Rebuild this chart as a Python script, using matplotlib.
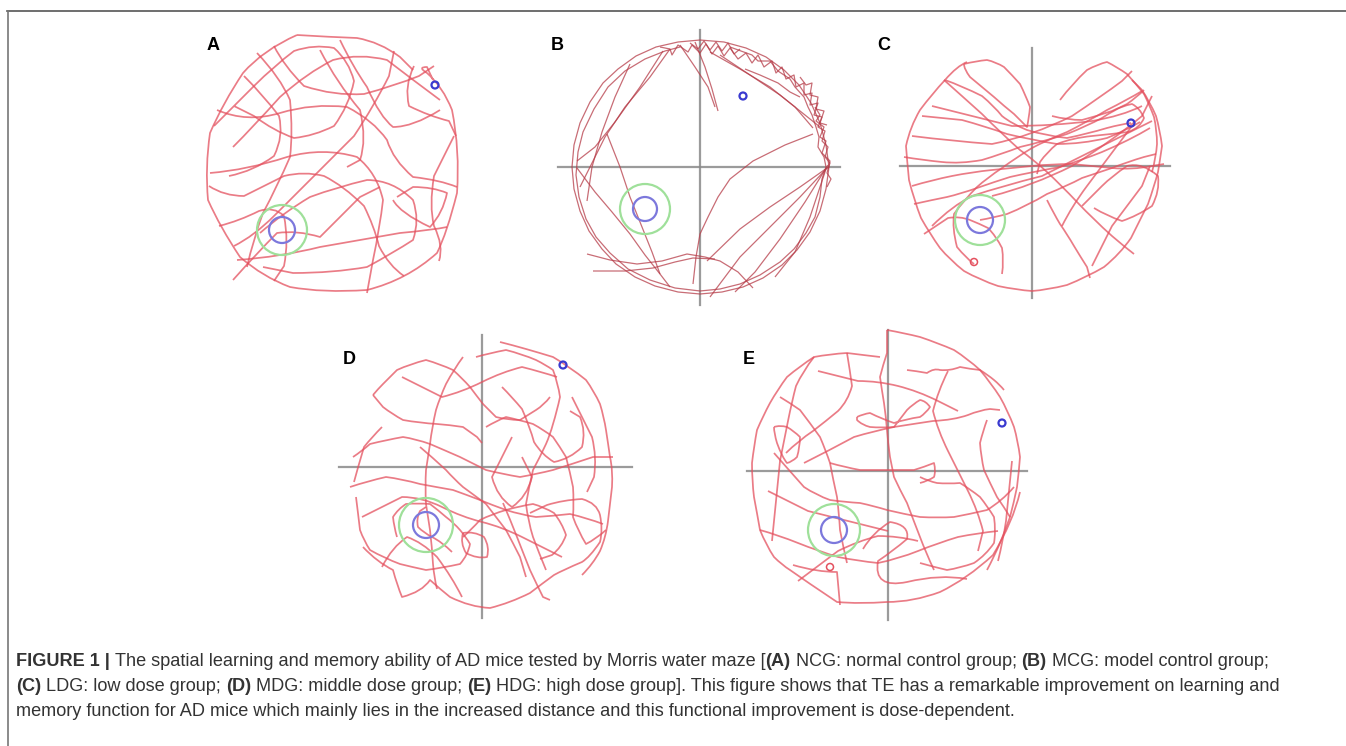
import matplotlib
matplotlib.use("Agg")
import matplotlib.pyplot as plt
from matplotlib.lines import Line2D
from matplotlib.patches import Circle, PathPatch
from matplotlib.path import Path

W, H = 1346, 746

# swim tracks: tracker px offsets from the pool centre (x right, y up)
A_TRACKS = [
    [(-37, 131), (-71, 116), (-91, 93), (-111, 63), (-124, 33), (-129, -1), (-126, -34), (-114, -61),
     (-94, -91), (-71, -111), (-44, -121), (-11, -127), (33, -124), (73, -114), (103, -87), (113, -67),
     (123, -27), (126, 16), (118, 56), (109, 79), (93, 93), (83, 99), (93, 99), (99, 86)],
    [(-37, 131), (-4, 129), (23, 128), (46, 124), (66, 109), (79, 96)],
    [(-77, 113), (-54, 89), (-44, 66), (-41, 33), (-44, 9), (-57, -21), (-71, -47), (-81, -74), (-87, -101)],
    [(-117, 56), (-87, 43), (-54, 53), (-21, 63), (13, 59), (39, 46), (53, 26), (59, 6), (79, -11),
     (106, -14), (123, -21)],
    [(-124, -7), (-87, -4), (-47, 9), (-11, 19), (23, 9), (43, -7), (49, -34), (46, -61), (39, -94), (33, -127)],
    [(6, 126), (19, 99), (33, 79), (46, 49), (59, 39), (79, 39), (106, 56)],
    [(-97, -94), (-54, -91), (-14, -81), (26, -74), (66, -67), (99, -64), (113, -61)],
    [(-74, -67), (-51, -47), (-24, -31), (3, -21), (33, -14), (59, -14), (79, -34), (86, -54), (79, -74),
     (59, -87), (33, -101), (-1, -107), (-41, -107), (-71, -101)],
    [(-101, -114), (-77, -87), (-57, -67), (-37, -64), (-14, -71), (3, -54), (26, -31), (46, -21)],
    [(-101, 19), (-81, 39), (-54, 69), (-27, 93), (-1, 106), (26, 113), (53, 106), (79, 86), (106, 66)],
    [(-14, 116), (3, 83), (26, 56), (33, 26), (26, 6), (13, -1)],
    [(59, -34), (66, -47), (96, -61), (109, -47), (113, -27), (99, -21), (79, -21), (63, -31)],
    [(-120, 40), (-100, 60), (-80, 80), (-60, 100), (-40, 115), (-20, 122), (0, 118), (15, 105), (20, 85),
     (15, 60), (0, 40), (-20, 30), (-40, 28), (-60, 35), (-80, 50), (-100, 60)],
    [(-60, 120), (-50, 100), (-30, 80), (0, 70), (30, 72), (60, 80), (85, 90), (100, 100)],
    [(-125, -20), (-110, -30), (-90, -30), (-70, -20), (-50, -10), (-30, -5), (-10, -10), (10, -20),
     (30, -40), (40, -60), (45, -80), (55, -100), (70, -110)],
    [(-100, -80), (-80, -70), (-60, -50), (-40, -30), (-20, -10), (0, 10), (20, 30), (40, 60), (55, 90), (60, 115)],
    [(120, 30), (110, 10), (100, -10), (95, -40), (100, -60), (110, -80), (105, -95)],
    [(-90, 90), (-70, 70), (-55, 50), (-50, 30), (-60, 10), (-80, -5), (-105, -10)],
    [(80, 100), (70, 80), (75, 60), (95, 50), (115, 45), (122, 30)],
    [(-115, -60), (-95, -55), (-75, -45), (-60, -40), (-50, -50), (-45, -75), (-50, -100), (-60, -115)],
]

B_TRACKS = [
    [(0, 127), (24, 125), (46, 119), (66, 110), (84, 97), (99, 82), (111, 64), (120, 44), (126, 22), (129, 0),
     (126, -22), (120, -44), (110, -65), (97, -83), (82, -98), (63, -111), (43, -120), (22, -125), (0, -127),
     (-22, -125), (-45, -119), (-65, -110), (-84, -97), (-98, -82), (-111, -64), (-120, -44), (-126, -22),
     (-128, 0), (-126, 22), (-120, 44), (-110, 65), (-97, 84), (-82, 98), (-64, 111), (-44, 120), (-22, 125), (0, 127)],
    [(30, 120), (52, 112), (58, 106), (70, 106), (78, 96), (90, 88), (95, 80), (104, 70), (108, 60), (112, 52),
     (116, 40), (119, 30), (118, 20), (124, 10), (126, 0), (122, -12), (120, -30), (115, -50), (106, -66),
     (94, -82), (80, -95), (60, -108), (40, -117), (20, -122), (0, -124), (-25, -121), (-50, -113), (-72, -102),
     (-90, -86), (-104, -70), (-114, -52), (-121, -30), (-124, -8), (-122, 15), (-117, 35), (-106, 58),
     (-92, 80), (-75, 96), (-55, 108), (-35, 116), (-20, 120)],
    [(-40, 120), (-30, 118), (-28, 112), (-22, 122), (-12, 115), (-8, 122), (0, 114), (6, 123), (12, 113),
     (18, 121), (24, 111), (30, 119), (38, 108), (46, 114), (52, 104), (58, 112), (64, 100), (72, 106),
     (76, 94), (82, 100), (86, 88), (94, 92), (96, 80), (104, 84), (104, 72), (112, 74), (110, 62), (118, 64),
     (114, 52), (122, 50), (118, 40), (125, 36), (122, 26), (128, 20), (125, 10), (130, 4), (128, -2)],
    [(-37, 116), (-60, 80), (-85, 45), (-105, 20), (-123, 6)],
    [(-30, 118), (-50, 90), (-75, 60), (-95, 30), (-110, 0), (-120, -20)],
    [(-5, 125), (5, 100), (12, 78), (18, 56)],
    [(-20, 122), (-5, 100), (8, 80), (15, 60)],
    [(10, 115), (40, 98), (70, 80), (95, 60), (113, 39)],
    [(20, 112), (50, 92), (80, 72), (105, 52), (120, 40)],
    [(127, -1), (100, -20), (70, -40), (40, -62), (7, -94)],
    [(128, 0), (100, -30), (70, -60), (40, -90), (10, -130)],
    [(128, 2), (105, -35), (80, -72), (55, -105), (35, -125)],
    [(126, -2), (110, -50), (95, -85), (75, -110)],
    [(113, 33), (85, 22), (53, 6), (30, -12), (18, -30), (8, -50), (0, -67), (-4, -90), (-7, -117)],
    [(-123, -1), (-105, -25), (-88, -45), (-70, -67), (-55, -88), (-40, -107), (-30, -120)],
    [(-113, -87), (-90, -93), (-63, -97), (-38, -94), (-13, -87), (5, -90), (20, -94), (38, -105), (53, -121)],
    [(-107, -104), (-75, -104), (-47, -101), (-25, -95), (-7, -91), (15, -92)],
    [(-70, 103), (-85, 70), (-98, 35), (-108, 0), (-113, -34)],
    [(-93, 33), (-80, 0), (-70, -30), (-58, -60), (-48, -85), (-40, -107)],
    [(115, 60), (120, 52), (116, 46), (124, 40), (120, 30), (126, 26), (122, 14), (130, 6), (127, -6),
     (131, -12), (127, -20)],
    [(45, 98), (60, 92), (78, 84), (90, 75), (100, 70)],
    [(-10, 124), (-2, 118), (4, 126), (10, 117), (16, 125), (22, 116), (28, 124), (34, 113), (40, 118)],
    [(100, 90), (106, 82), (112, 84), (110, 72), (118, 70), (116, 58), (124, 56), (120, 44), (127, 42)],
]

C_TRACKS = [
    [(-87, 86), (-100, 72), (-112, 56), (-122, 39), (-126, 20), (-125, 6), (-123, -14), (-118, -34),
     (-111, -52), (-102, -68), (-92, -82), (-82, -94), (-68, -105), (-52, -114), (-34, -120), (-15, -124),
     (0, -125), (15, -124), (35, -119), (55, -111), (72, -101), (88, -88), (99, -72), (108, -54), (116, -38),
     (122, -21), (126, -6), (128, 6), (130, 20), (128, 36), (124, 50), (118, 64), (110, 76), (100, 86)],
    [(-68, 102), (-56, 105), (-45, 106), (-36, 104), (-28, 99), (-20, 91), (-12, 82), (-6, 70), (-2, 59),
     (-3, 48), (-5, 39), (-12, 46), (-18, 52), (-28, 60), (-38, 69), (-50, 79), (-62, 89), (-68, 97), (-68, 102)],
    [(-65, 104), (-75, 100), (-87, 86), (-70, 80), (-50, 70), (-38, 60), (-30, 50), (-20, 42), (-5, 36),
     (15, 30), (35, 28), (55, 32), (75, 38), (90, 42), (99, 43)],
    [(28, 66), (40, 82), (55, 96), (66, 102), (75, 104), (85, 99), (95, 92), (104, 82), (112, 72), (118, 60),
     (122, 49), (125, 36), (125, 22), (124, 8), (120, -6)],
    [(110, 75), (95, 66), (75, 56), (55, 44), (35, 34), (15, 26), (0, 18), (-15, 9), (-30, -2), (-45, -12),
     (-55, -21), (-68, -34), (-78, -48), (-80, -62), (-75, -81), (-66, -92), (-58, -98)],
    [(-88, 86), (-70, 70), (-50, 52), (-30, 32), (-12, 16), (2, 6), (15, -6), (30, -20), (45, -36), (62, -54),
     (80, -70), (94, -82), (102, -88)],
    [(-52, -54), (-40, -52), (-25, -48), (-5, -40), (15, -28), (35, -20), (50, -12), (62, -8), (80, -2),
     (95, 4), (112, 9), (124, 12)],
    [(-118, -38), (-100, -34), (-85, -31), (-72, -28), (-55, -22), (-38, -16), (-22, -11), (0, -6), (28, -1),
     (50, 6), (70, 14), (82, 19), (96, 26), (108, 32), (118, 38)],
    [(-128, 9), (-110, 6), (-90, 4), (-72, 2), (-50, 6), (-30, 12), (-12, 19), (10, 24), (35, 32), (55, 40),
     (70, 48), (82, 56), (95, 62), (105, 69), (112, 76)],
    [(15, -34), (22, -48), (28, -58), (35, -68), (42, -80), (48, -90), (55, -101), (58, -112)],
    [(20, 50), (35, 46), (50, 46), (65, 50), (80, 55), (90, 60), (100, 62), (108, 58), (112, 48), (108, 38),
     (96, 34), (80, 32), (60, 30), (40, 28), (25, 22), (15, 14), (8, 4), (5, -8)],
    [(-108, -68), (-96, -60), (-84, -52), (-72, -50), (-62, -54), (-52, -58), (-44, -62), (-36, -70),
     (-30, -82), (-28, -95), (-30, -108)],
    [(50, -40), (60, -30), (70, -20), (80, -10), (95, 0), (110, 4), (126, -10), (128, -25), (120, -40),
     (105, -50), (90, -55), (75, -50), (62, -42)],
    [(-110, 50), (-90, 48), (-70, 46), (-48, 40), (-25, 32), (0, 26), (25, 22), (50, 22), (75, 28), (95, 36),
     (108, 44)],
    [(-120, -20), (-100, -14), (-80, -10), (-60, -6), (-40, -4), (-20, -2), (0, 0), (20, 2), (40, 2), (60, 0),
     (80, -2), (100, -4), (120, 0), (132, 2)],
    [(-100, 60), (-60, 50), (-20, 40), (20, 40), (60, 45), (90, 50), (110, 60)],
    [(-40, -30), (0, -20), (40, 0), (80, 25), (110, 50), (120, 70)],
    [(-120, 30), (-80, 25), (-40, 22), (0, 30), (40, 50), (70, 70), (90, 85), (100, 95)],
    [(-100, -60), (-80, -40), (-60, -30), (-30, -20), (10, -10), (50, 10), (90, 30), (120, 45)],
    [(30, -60), (40, -40), (55, -20), (70, 0), (85, 20), (100, 40)],
    [(60, -100), (70, -80), (80, -60), (95, -40), (110, -20), (118, 0)],
]

D_TRACKS = [
    [(18, 125), (30, 122), (44, 118), (58, 114), (71, 110), (88, 100), (104, 87), (112, 76), (118, 63),
     (122, 50), (124, 37), (126, 24), (128, 10), (131, -3), (130, -20), (128, -37), (126, -54), (124, -70),
     (118, -84), (111, -97), (100, -108)],
    [(-109, 72), (-104, 78), (-99, 83), (-92, 90), (-85, 97), (-72, 103), (-56, 107), (-42, 103), (-29, 97),
     (-20, 89), (-12, 80), (-6, 72), (1, 63), (8, 56), (14, 50), (26, 47), (38, 47), (46, 52), (54, 57),
     (62, 62), (68, 70)],
    [(-109, 72), (-104, 66), (-99, 60), (-90, 53), (-79, 47), (-62, 44), (-45, 43), (-32, 42), (-19, 40),
     (-12, 35), (-5, 30), (0, 24)],
    [(-19, 110), (-28, 98), (-36, 83), (-42, 70), (-46, 57), (-50, 40), (-52, 23), (-54, 10), (-56, -3),
     (-57, -20), (-56, -37), (-54, -50), (-52, -63), (-50, -80), (-49, -97), (-48, -110), (-45, -122)],
    [(-6, 110), (8, 114), (24, 117), (40, 113), (54, 107), (64, 102), (71, 97), (76, 84), (78, 70), (75, 56),
     (71, 43), (68, 32), (64, 23), (58, 10), (51, -3), (47, -20), (44, -37), (46, -54), (51, -70), (57, -86),
     (64, -103)],
    [(-129, 10), (-120, 16), (-112, 23), (-96, 27), (-79, 30), (-66, 28), (-52, 23), (-38, 17), (-22, 10),
     (-8, 3), (4, -3), (20, -7), (38, -10), (55, -7), (71, -3), (90, 3), (111, 10), (131, 10)],
    [(-132, -20), (-114, -14), (-96, -10), (-80, -12), (-62, -17), (-46, -20), (-29, -23), (-15, -28),
     (-2, -33), (10, -38), (24, -43), (40, -48), (54, -50), (70, -49), (88, -47), (105, -51), (121, -57)],
    [(-126, -30), (-124, -46), (-122, -63), (-118, -74), (-112, -83), (-98, -91), (-82, -97), (-70, -100),
     (-56, -103), (-40, -101), (-22, -97), (-14, -88), (-12, -77), (-16, -70), (-22, -63), (-28, -56),
     (-36, -50), (-44, -43), (-52, -37), (-64, -36), (-76, -37), (-84, -42), (-89, -50), (-88, -60), (-85, -70)],
    [(4, 40), (14, 46), (24, 50), (38, 47), (51, 43), (62, 37), (71, 30), (78, 20), (84, 10), (88, -5),
     (91, -20), (92, -35), (91, -50), (96, -64), (104, -77), (114, -72), (124, -63)],
    [(-62, 20), (-50, 10), (-36, -3), (-28, -12), (-19, -20), (-8, -28), (4, -37), (14, -50), (24, -63),
     (31, -76), (38, -90), (41, -100), (44, -110)],
    [(-19, -70), (-10, -62), (-2, -53), (10, -47), (24, -43), (38, -39), (51, -37), (62, -40), (72, -46),
     (80, -56), (84, -68), (80, -80), (70, -88), (58, -92)],
    [(-100, 40), (-110, 30), (-118, 20), (-124, 0), (-128, -15)],
    [(-30, -85), (-40, -75), (-50, -70), (-58, -66), (-64, -60), (-66, -52), (-62, -44), (-56, -40)],
    [(20, 80), (30, 70), (40, 58), (48, 40), (52, 25), (60, 12), (72, 5), (88, 8), (100, 20), (104, 36),
     (98, 50), (88, 56)],
    [(-119, -80), (-105, -95), (-89, -103), (-85, -118), (-80, -130), (-60, -125), (-52, -113), (-42, -122),
     (-32, -130), (-12, -140), (8, -141), (28, -136), (48, -126), (61, -116), (72, -108), (81, -103),
     (100, -95), (108, -90), (118, -75), (121, -63), (118, -48), (115, -36), (100, -32), (81, -33), (65, -38),
     (48, -46)],
    [(-19, -66), (-22, -76), (-16, -86), (-5, -92), (5, -90), (8, -80), (2, -70), (-8, -64), (-19, -66)],
    [(21, -36), (28, -52), (35, -70), (42, -88), (48, -103), (55, -118), (61, -130), (68, -133)],
    [(-80, 90), (-60, 80), (-40, 70), (-20, 75), (0, 85), (20, 95), (40, 100), (60, 95), (75, 90)],
    [(-120, -50), (-100, -40), (-80, -30), (-60, -30), (-40, -40), (-20, -50), (0, -55), (20, -60), (40, -70),
     (60, -80), (80, -90)],
    [(-100, -100), (-90, -80), (-75, -70), (-60, -75), (-45, -90), (-30, -110), (-20, -130)],
    [(30, 30), (20, 10), (10, -10), (15, -30), (30, -40), (45, -30), (50, -10), (40, 10)],
    [(90, 70), (100, 50), (110, 30), (115, 10), (112, -10), (105, -25)],
]

E_TRACKS = [
    [(-1, 141), (16, 138), (32, 134), (50, 128), (66, 121), (80, 112), (92, 101), (103, 88), (112, 74),
     (120, 60), (126, 44), (130, 30), (132, 14), (131, 0), (129, -16), (126, -31), (122, -46), (117, -60),
     (112, -72), (106, -86), (99, -99)],
    [(-8, 114), (-25, 116), (-41, 118), (-58, 117), (-74, 114), (-88, 105), (-101, 94), (-110, 82),
     (-118, 68), (-125, 55), (-131, 41), (-134, 25), (-136, 8), (-136, -10), (-134, -26), (-131, -42),
     (-128, -59), (-122, -74), (-114, -86), (-106, -94), (-98, -99), (-81, -111), (-51, -131), (-28, -133),
     (-1, -131), (25, -131), (52, -121), (79, -108), (105, -84), (125, -51), (132, -21)],
    [(-1, 141), (-1, 130), (-1, 118), (-5, 106), (-8, 94), (-6, 80), (-4, 68), (-2, 54), (-1, 41), (0, 28),
     (2, 14), (4, 4), (6, -6), (12, -19), (19, -32), (25, -48), (32, -66), (38, -82), (46, -99)],
    [(-108, 74), (-98, 68), (-88, 61), (-78, 48), (-68, 34), (-62, 20), (-58, 8), (-55, -8), (-51, -26),
     (-49, -42), (-48, -59), (-45, -75), (-41, -92)],
    [(-31, 54), (-25, 57), (-18, 58), (-6, 52), (6, 48), (18, 52), (32, 54), (38, 58), (42, 64), (38, 70),
     (32, 71), (25, 67), (19, 61), (12, 52), (6, 44), (-6, 43), (-18, 44), (-26, 46), (-31, 51), (-31, 54)],
    [(-84, 8), (-60, 20), (-34, 34), (-14, 40), (6, 44), (25, 47), (45, 50), (66, 51), (80, 56), (92, 61),
     (102, 62), (112, 61)],
    [(-114, 18), (-100, 2), (-84, -16), (-72, -24), (-58, -29), (-44, -31), (-28, -32), (-14, -35), (-1, -39),
     (16, -43), (32, -46), (50, -47), (66, -46), (82, -43), (99, -39), (114, -30), (126, -16)],
    [(32, -6), (40, -10), (49, -12), (60, -13), (72, -12), (82, -18), (92, -26), (100, -36), (106, -46),
     (108, -60), (106, -72), (98, -84), (86, -92), (72, -97), (59, -99), (46, -96), (32, -92)],
    [(-114, 44), (-108, 46), (-101, 44), (-94, 40), (-88, 34), (-88, 24), (-91, 14), (-96, 9), (-101, 8),
     (-106, 14), (-111, 28), (-114, 38), (-114, 44)],
    [(19, 101), (28, 100), (39, 98), (46, 103), (52, 101), (62, 100), (72, 104), (82, 102), (92, 101),
     (100, 96), (106, 91), (112, 86), (116, 81)],
    [(-58, 8), (-44, 4), (-28, 1), (-14, 1), (-1, 1), (12, 1), (26, 1), (36, 4), (46, 8), (48, 0), (46, -6),
     (40, -10), (32, -12)],
    [(99, 51), (95, 40), (92, 28), (93, 14), (96, 1), (102, -12), (109, -26), (116, -36), (122, -46)],
    [(-74, 114), (-85, 100), (-92, 85), (-96, 70), (-100, 50), (-104, 30), (-108, 10), (-110, -10),
     (-112, -30), (-114, -50), (-116, -70)],
    [(-128, -59), (-110, -64), (-90, -72), (-70, -80), (-50, -86), (-30, -90), (-10, -92), (10, -88),
     (30, -80), (50, -72), (70, -66), (90, -62), (110, -60)],
    [(-25, -78), (-15, -61), (2, -51), (22, -54), (19, -68), (5, -80), (-10, -90), (-15, -118), (19, -111),
     (52, -103), (79, -108)],
    [(-95, -94), (-71, -101), (-51, -101), (-48, -134)],
    [(-41, 118), (-38, 100), (-36, 85), (-40, 70), (-50, 60), (-62, 50), (-75, 40), (-90, 30), (-102, 18)],
    [(-120, -20), (-100, -30), (-80, -40), (-60, -45), (-40, -50), (-20, -55), (0, -60)],
    [(-90, -110), (-70, -95), (-50, -80), (-30, -70), (-10, -65), (10, -65), (30, -70)],
    [(60, 100), (50, 80), (45, 60), (50, 40), (60, 20), (70, 0), (80, -20), (90, -40), (95, -60), (90, -80)],
    [(-70, 100), (-50, 95), (-30, 90), (-10, 90), (10, 85), (30, 80), (50, 70), (70, 60)],
    [(110, -90), (115, -70), (118, -50), (120, -30), (122, -10), (124, 10)],
]

TRACKS = {"A": A_TRACKS, "B": B_TRACKS, "C": C_TRACKS, "D": D_TRACKS, "E": E_TRACKS}

# platform (annulus + platform) and start point per group, same units
PLATFORM_XY = {"A": (-52, -64), "B": (-55, -42), "C": (-52, -54), "D": (-56, -58), "E": (-54, -59)}
ANNULUS_R = {"A": 25, "B": 25, "C": 25, "D": 27, "E": 26}
PLATFORM_R = {"A": 13, "B": 12, "C": 13, "D": 13, "E": 13}
START_XY = {"A": (101, 81), "B": (43, 71), "C": (99, 43), "D": (81, 102), "E": (114, 48)}
# small marks at the start of the C and E trials
DOT_XY = {"C": (-58, -96), "E": (-58, -96)}

# crosshair extents (x0, x1, y1, y0); A has none
CROSS = {"B": (-142, 140, 137, -138), "C": (-132, 138, 118, -132),
         "D": (-143, 150, 132, -151), "E": (-141, 139, 141, -149)}

CAPTION = [
    [("FIGURE 1 |", True), (" The spatial learning and memory ability of AD mice tested by Morris water maze [", False),
     ("(A)", True), (" NCG: normal control group; ", False), ("(B)", True), (" MCG: model control group;", False)],
    [("(C)", True), (" LDG: low dose group; ", False), ("(D)", True), (" MDG: middle dose group; ", False),
     ("(E)", True), (" HDG: high dose group]. This figure shows that TE has a remarkable improvement on learning and", False)],
    [("memory function for AD mice which mainly lies in the increased distance and this functional improvement is dose-dependent.", False)],
]

# layout (pixels): pool centre of each panel, label position
CENTER = {"A": (334, 166), "B": (700, 167), "C": (1032, 166), "D": (482, 467), "E": (888, 471)}
LABEL_POS = {"A": (213, 45), "B": (557, 45), "C": (884, 45), "D": (349, 360), "E": (749, 360)}
HALF = 160


def track_path(pts, smooth=True):
    # waypoints drawn as a chain of quadratic curves (control, end, control, end, ...)
    n = len(pts)
    if not smooth:
        return Path(pts)
    codes = [Path.MOVETO] + [Path.CURVE3] * (n - 1)
    if (n - 1) % 2:
        codes[-1] = Path.LINETO
    return Path(pts, codes)


fig = plt.figure(figsize=(W / 100, H / 100), dpi=100)
fig.patch.set_facecolor("white")

for key, (cx, cy) in CENTER.items():
    ax = fig.add_axes([(cx - HALF) / W, 1 - (cy + HALF) / H, 2 * HALF / W, 2 * HALF / H])
    ax.set_xlim(-HALF, HALF)
    ax.set_ylim(-HALF, HALF)
    ax.axis("off")
    ax.patch.set_alpha(0)
    if key in CROSS:
        x0, x1, y1, y0 = CROSS[key]
        ax.plot([x0, x1], [0, 0], color="#8a8a8a", lw=1.6, alpha=0.85, zorder=1)
        ax.plot([0, 0], [y0, y1], color="#8a8a8a", lw=1.6, alpha=0.85, zorder=1)
    # B's tracker output is jittery, the others are smooth
    smooth = key != "B"
    col, lw = ("#b63c48", 0.9) if key == "B" else ("#e4505e", 1.25)
    for tr in TRACKS[key]:
        ax.add_patch(PathPatch(track_path(tr, smooth), fill=False, ec=col, lw=lw, alpha=0.75,
                               joinstyle="round", zorder=2))
    if key in DOT_XY:
        ax.add_patch(Circle(DOT_XY[key], 3.5, fill=False, ec="#e4505e", lw=1.1, zorder=2))
    px, py = PLATFORM_XY[key]
    ax.add_patch(Circle((px, py), ANNULUS_R[key], fill=False, ec="#9fe09a", lw=1.6, zorder=3))
    ax.add_patch(Circle((px, py), PLATFORM_R[key], fill=False, ec="#7c78dc", lw=1.6, zorder=3))
    sx, sy = START_XY[key]
    ax.add_patch(Circle((sx, sy), 3.5, fill=False, ec="#3a3ad0", lw=1.6, zorder=4))
    lx, ly = LABEL_POS[key]
    fig.text(lx / W, 1 - ly / H, key, ha="center", va="center", fontsize=13, fontweight="bold",
             family="Liberation Sans", color="black")

# frame: top and left rules
fig.add_artist(Line2D([7 / W, 1], [1 - 10.5 / H, 1 - 10.5 / H], color="#555555", lw=1.2))
fig.add_artist(Line2D([7.5 / W, 7.5 / W], [0, 1 - 10.5 / H], color="#777777", lw=1.2))

# caption, bold/regular runs placed one after another
fig.canvas.draw()
renderer = fig.canvas.get_renderer()
fs = 13.05


def _w(s, bold):
    t = fig.text(0, 0, s, fontsize=fs, family="Liberation Sans", fontweight="bold" if bold else "normal")
    w = t.get_window_extent(renderer).width
    t.remove()
    return w


space_w = _w("x x", False) - _w("xx", False)

for i, runs in enumerate(CAPTION):
    x = 16
    y = 662 + i * 24.5
    for s, bold in runs:
        x += (len(s) - len(s.lstrip(" "))) * space_w
        t = fig.text(x / W, 1 - y / H, s.strip(" "), fontsize=fs, family="Liberation Sans",
                     fontweight="bold" if bold else "normal", color="#333333", va="center", ha="left")
        x += t.get_window_extent(renderer).width
        x += (len(s) - len(s.rstrip(" "))) * space_w

fig.savefig("out.png", dpi=100)
